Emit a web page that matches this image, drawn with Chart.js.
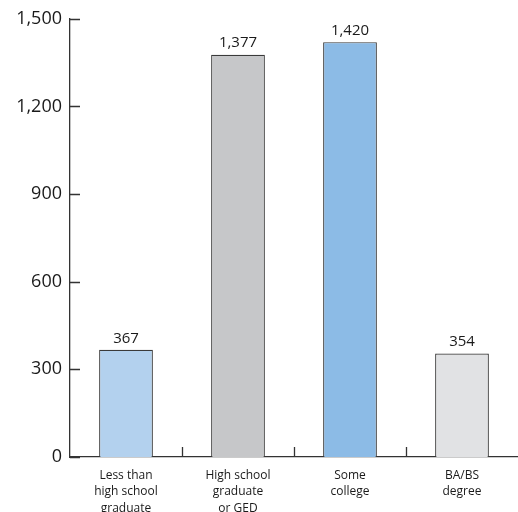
<!DOCTYPE html>
<html>
<head>
<meta charset="utf-8">
<script src="https://cdn.jsdelivr.net/npm/chart.js@4/dist/chart.umd.min.js"></script>
<style>
html,body{margin:0;padding:0;background:#fff;overflow:hidden;}
#wrap{width:518px;height:512px;position:relative;}
</style>
</head>
<body>
<div id="wrap"><canvas id="c"></canvas></div>
<script>
const categories = [
  ["Less than","high school","graduate"],
  ["High school","graduate","or GED"],
  ["Some","college"],
  ["BA/BS","degree"]
];
const values = [367, 1377, 1420, 354];
const barColors = ["#b3d1ee", "#c6c7c9", "#8cbbe6", "#e1e2e4"];
const yTicks = [0, 300, 600, 900, 1200, 1500];

const axisColor = "#333333";
const textColor = "#1a1a1a";
const fontFamily = "'Open Sans', 'DejaVu Sans', sans-serif";

const tickMarks = {
  id: "tickMarks",
  afterDraw(chart) {
    const ctx = chart.ctx;
    const x = chart.scales.x, y = chart.scales.y;
    ctx.save();
    ctx.strokeStyle = axisColor;
    ctx.lineWidth = 1.3;
    ctx.beginPath();
    yTicks.forEach(v => {
      const py = Math.round(y.getPixelForValue(v)) + 0.5;
      ctx.moveTo(y.right, py);
      ctx.lineTo(y.right + 10, py);
    });
    for (let i = 1; i < categories.length; i++) {
      const px = Math.round((x.getPixelForValue(i - 1) + x.getPixelForValue(i)) / 2) + 0.5;
      ctx.moveTo(px, x.top);
      ctx.lineTo(px, x.top - 10);
    }
    ctx.stroke();
    ctx.restore();
  }
};

const dataLabels = {
  id: "dataLabels",
  afterDatasetsDraw(chart) {
    const ctx = chart.ctx;
    const meta = chart.getDatasetMeta(0);
    ctx.save();
    ctx.font = "15px " + fontFamily;
    ctx.fillStyle = textColor;
    ctx.textAlign = "center";
    ctx.textBaseline = "bottom";
    meta.data.forEach((bar, i) => {
      ctx.fillText(values[i].toLocaleString("en-US"), bar.x, bar.y - 4);
    });
    ctx.restore();
  }
};

new Chart(document.getElementById("c"), {
  type: "bar",
  data: {
    labels: categories,
    datasets: [{
      data: values,
      backgroundColor: barColors,
      borderColor: "#3a3a3a",
      borderWidth: 1.2,
      barPercentage: 0.48,
      categoryPercentage: 1.0
    }]
  },
  options: {
    responsive: true,
    maintainAspectRatio: false,
    animation: false,
    layout: { padding: { top: 18, right: 0, left: 0, bottom: 0 } },
    plugins: { legend: { display: false }, tooltip: { enabled: false } },
    scales: {
      y: {
        min: 0, max: 1500,
        afterFit(s) { s.width = 70; },
        afterBuildTicks(s) { s.ticks = yTicks.map(v => ({ value: v })); },
        grid: { display: false, drawTicks: false },
        border: { display: true, color: axisColor, width: 1.3 },
        ticks: {
          padding: 8,
          color: textColor,
          font: { family: fontFamily, size: 18 },
          callback: v => v.toLocaleString("en-US")
        }
      },
      x: {
        afterFit(s) { s.height = 55; },
        grid: { display: false, drawTicks: false },
        border: { display: true, color: axisColor, width: 1.3 },
        ticks: {
          padding: 10,
          color: textColor,
          maxRotation: 0,
          autoSkip: false,
          font: { family: fontFamily, size: 12, lineHeight: 1.38 }
        }
      }
    }
  },
  plugins: [tickMarks, dataLabels]
});
</script>
</body>
</html>
